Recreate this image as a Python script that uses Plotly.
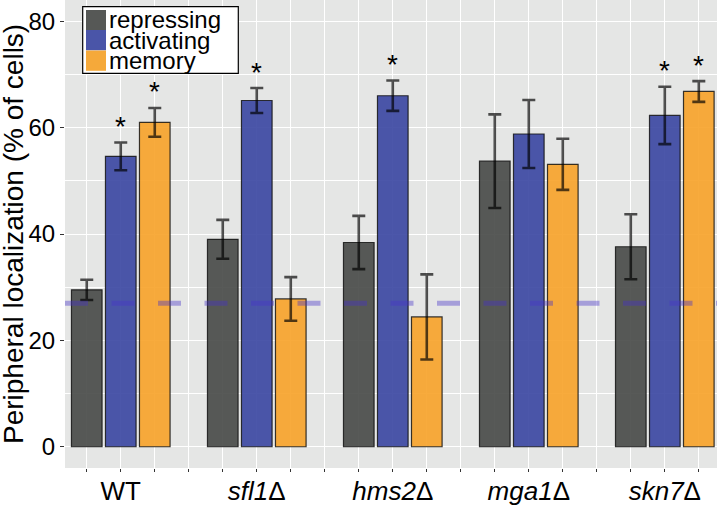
import plotly.graph_objects as go

# ---------------- data ----------------
genotypes = ["WT", "<i>sfl1</i>Δ", "<i>hms2</i>Δ", "<i>mga1</i>Δ", "<i>skn7</i>Δ"]
series_names = ["repressing", "activating", "memory"]

repressing = [29.5, 39.0, 38.4, 53.7, 37.6]
repressing_err = [1.9, 3.65, 5.0, 8.8, 6.1]
activating = [54.6, 65.1, 66.0, 58.8, 62.3]
activating_err = [2.6, 2.35, 2.85, 6.4, 5.4]
memory = [61.0, 27.8, 24.4, 53.1, 66.8]
memory_err = [2.7, 4.1, 8.0, 4.8, 1.95]

repressing_sig = ["", "", "", "", ""]
activating_sig = ["*", "*", "*", "", "*"]
memory_sig = ["*", "", "", "", "*"]

baseline_level = 27.0

y_ticks = [0, 20, 40, 60, 80]
y_title = "Peripheral localization (% of cells)"

# ---------------- style ----------------
colors = ["rgba(70,72,70,0.9)", "rgba(57,69,161,0.9)", "rgba(247,162,40,0.9)"]
swatch_colors = ["#565856", "#4a55a8", "#f5a93a"]
FONT = "Liberation Sans, Arial, sans-serif"

values = [repressing, activating, memory]
errors = [repressing_err, activating_err, memory_err]
sigs = [repressing_sig, activating_sig, memory_sig]

n_groups = len(genotypes)
n_series = len(series_names)
slot = n_series + 1

# plot area geometry in px
L, T, PW, PH = 65, 0, 652.0, 468.0
def px_x(px):
    return (px - L) / PW
def px_y(py):
    return 1 - (py - T) / PH

fig = go.Figure()
annotations = []
for s in range(n_series):
    xs = [g * slot + s + 1 for g in range(n_groups)]
    fig.add_trace(go.Bar(
        x=xs, y=values[s], name=series_names[s], width=0.9,
        marker=dict(color=colors[s], line=dict(color="rgba(20,20,20,0.85)", width=1.2)),
        error_y=dict(type="data", array=errors[s], visible=True,
                     color="rgba(0,0,0,0.68)", thickness=2.6, width=6.5),
        showlegend=False, hoverinfo="skip",
    ))
    for g in range(n_groups):
        if sigs[s][g]:
            annotations.append(dict(
                x=xs[g], y=values[s][g] + errors[s][g], xref="x", yref="y",
                text=sigs[s][g], showarrow=False, yanchor="middle", yshift=16,
                font=dict(family=FONT, size=28, color="black")))

# tick positions for every bar slot; labels under group centers
n_pos = n_groups * slot - 1
tickvals = list(range(1, n_pos + 1))
ticktext = []
for p in tickvals:
    if (p - 2) % slot == 0:
        ticktext.append(genotypes[(p - 2) // slot])
    else:
        ticktext.append("")

# dashed reference line
shapes = [dict(type="line", xref="paper", yref="y", x0=0, x1=1,
               y0=baseline_level, y1=baseline_level, layer="above",
               line=dict(color="rgba(70,50,200,0.4)", width=5, dash="23px,23.5px"))]

# custom legend
shapes.append(dict(type="rect", xref="paper", yref="paper",
                   x0=px_x(82.7), x1=px_x(238.3), y0=px_y(73.3), y1=px_y(6.7),
                   fillcolor="white", line=dict(color="black", width=1.2), layer="above"))
row_tops = [10, 30, 50.5]
for i, name in enumerate(series_names):
    top = row_tops[i]
    shapes.append(dict(type="rect", xref="paper", yref="paper",
                       x0=px_x(86), x1=px_x(106), y0=px_y(top + 20.3), y1=px_y(top),
                       fillcolor=swatch_colors[i], line=dict(width=0), layer="above"))
    annotations.append(dict(x=px_x(106.5), y=px_y(top + 10), xref="paper", yref="paper",
                            text=name, showarrow=False, xanchor="left", yanchor="middle",
                            font=dict(family=FONT, size=24, color="black")))

# y-axis title
annotations.append(dict(x=px_x(13), y=px_y(234), xref="paper", yref="paper",
                        text=y_title, textangle=-90, showarrow=False,
                        xanchor="center", yanchor="middle",
                        font=dict(family=FONT, size=28, color="black")))

fig.update_layout(
    width=717, height=508,
    margin=dict(l=L, r=0, t=T, b=40, autoexpand=False),
    paper_bgcolor="white", plot_bgcolor="#e5e6e5",
    barmode="overlay",
    font=dict(family=FONT, color="black"),
    shapes=shapes, annotations=annotations,
)
fig.update_xaxes(
    range=[0.36, 19.535], tickmode="array", tickvals=tickvals, ticktext=ticktext,
    showgrid=True, gridcolor="white", gridwidth=1.4, zeroline=False, automargin=False,
    ticks="outside", ticklen=3, tickwidth=1.2, tickcolor="#333333",
    ticklabelstandoff=-3,
    tickfont=dict(family=FONT, size=26, color="black"), showline=False,
)
fig.update_yaxes(
    range=[-4, 84], tickmode="array", tickvals=y_ticks, automargin=False,
    showgrid=True, gridcolor="white", gridwidth=1.4, zeroline=False,
    minor=dict(tickmode="linear", tick0=10, dtick=20, showgrid=True,
               gridcolor="white", gridwidth=0.8, ticks=""),
    ticks="outside", ticklen=4, tickwidth=1.2, tickcolor="#333333",
    tickfont=dict(family=FONT, size=24, color="black"), showline=False,
)

fig.write_html("out.html", config={"displayModeBar": False},
               post_script="document.body.style.margin='0';document.body.style.padding='0';")
